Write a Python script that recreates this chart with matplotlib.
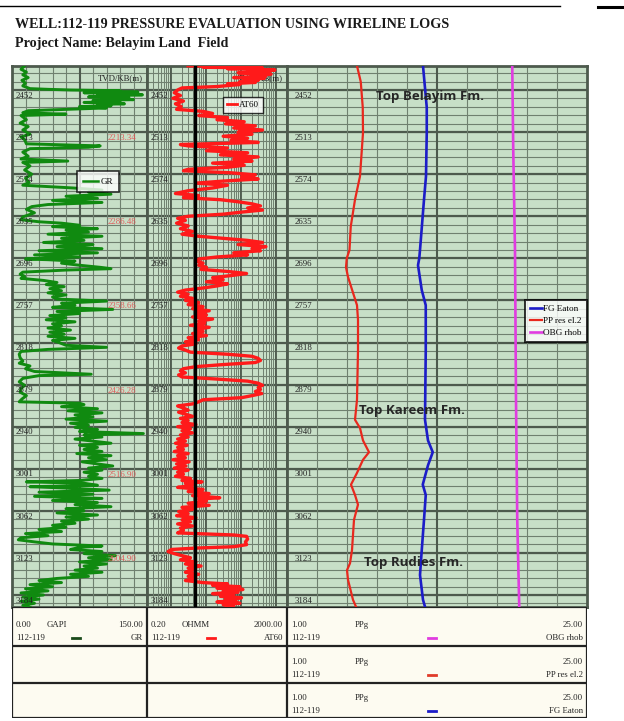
import numpy as np
import matplotlib
matplotlib.use("Agg")
import matplotlib.pyplot as plt
from matplotlib.lines import Line2D
from matplotlib.transforms import blended_transform_factory

# ---------------------------------------------------------------- data
major_depths = [2452, 2513, 2574, 2635, 2696, 2757, 2818, 2879, 2940,
                3001, 3062, 3123, 3184]
tvd_depths = [2513, 2635, 2757, 2879, 3001, 3123]
tvd_labels = ["2213.34", "2286.48", "2358.66", "2426.28", "2516.90", "2604.90"]

gr_depth = [2417, 2422, 2426, 2430, 2434, 2438, 2442, 2446, 2450, 2451, 2452, 2453,
            2454, 2455, 2456, 2457, 2458, 2459, 2460, 2461, 2462, 2463, 2464, 2466,
            2467, 2469, 2470, 2472, 2473, 2475, 2476, 2478, 2480, 2482, 2485, 2487,
            2489, 2495, 2500, 2505, 2510, 2516, 2520, 2524, 2530, 2533, 2535, 2537,
            2542, 2548, 2552, 2555, 2557, 2562, 2568, 2574, 2580, 2586, 2590, 2594,
            2597, 2600, 2603, 2606, 2609, 2612, 2615, 2618, 2621, 2625, 2630, 2636,
            2640, 2643, 2645, 2648, 2650, 2653, 2655, 2658, 2661, 2664, 2667, 2670,
            2673, 2676, 2679, 2682, 2685, 2688, 2691, 2694, 2697, 2698, 2700, 2703,
            2706, 2709, 2711, 2713, 2716, 2719, 2722, 2725, 2728, 2731, 2734, 2737,
            2740, 2743, 2746, 2749, 2752, 2755, 2758, 2761, 2764, 2767, 2770, 2773,
            2776, 2779, 2782, 2785, 2788, 2791, 2794, 2797, 2800, 2803, 2806, 2809,
            2812, 2815, 2818, 2822, 2825, 2828, 2831, 2835, 2840, 2845, 2848, 2852,
            2856, 2860, 2864, 2866, 2870, 2875, 2880, 2885, 2890, 2895, 2900, 2904,
            2906, 2908, 2911, 2914, 2917, 2920, 2923, 2926, 2929, 2932, 2935, 2938,
            2941, 2944, 2947, 2950, 2952, 2955, 2958, 2961, 2964, 2967, 2970, 2973,
            2976, 2979, 2982, 2985, 2988, 2991, 2994, 2997, 3000, 3003, 3006, 3009,
            3012, 3015, 3018, 3020, 3022, 3025, 3027, 3029, 3032, 3035, 3038, 3041,
            3044, 3047, 3050, 3053, 3056, 3059, 3062, 3065, 3068, 3071, 3074, 3077,
            3080, 3083, 3086, 3089, 3092, 3095, 3098, 3101, 3104, 3107, 3110, 3113,
            3115, 3118, 3121, 3124, 3127, 3130, 3133, 3136, 3139, 3142, 3145, 3148,
            3151, 3154, 3157, 3160, 3163, 3166, 3169, 3172, 3175, 3178, 3181, 3184,
            3187, 3190, 3193, 3196, 3199, 3202]
gr_api = [14, 10, 16, 12, 18, 11, 15, 12, 20, 40, 65, 120,
          95, 140, 80, 130, 95, 145, 110, 125, 85, 130, 100, 135,
          90, 120, 80, 125, 95, 110, 75, 105, 60, 18, 12, 60,
          10, 16, 9, 18, 12, 20, 10, 14, 16, 98, 85, 20,
          12, 18, 10, 62, 12, 20, 14, 22, 15, 19, 12, 68,
          100, 85, 110, 60, 95, 45, 100, 40, 22, 16, 25, 12,
          10, 30, 55, 75, 45, 95, 60, 85, 40, 100, 55, 80,
          35, 90, 50, 100, 30, 95, 25, 75, 15, 40, 70, 55,
          75, 98, 110, 60, 12, 9, 14, 10, 35, 50, 38, 58,
          42, 55, 40, 60, 45, 50, 105, 55, 70, 45, 112, 50,
          75, 42, 60, 38, 70, 45, 55, 40, 65, 42, 58, 40,
          70, 45, 52, 60, 105, 40, 10, 8, 9, 12, 8, 20,
          15, 25, 88, 30, 12, 8, 14, 10, 9, 16, 11, 8,
          75, 80, 55, 95, 62, 100, 70, 90, 60, 105, 65, 85,
          70, 95, 75, 146, 80, 100, 70, 90, 110, 75, 95, 80,
          100, 72, 110, 85, 105, 78, 95, 112, 85, 100, 80, 95,
          85, 100, 75, 16, 80, 95, 20, 60, 108, 30, 90, 25,
          100, 45, 95, 70, 110, 60, 80, 50, 95, 60, 85, 55,
          70, 45, 60, 30, 55, 15, 40, 10, 7, 25, 45, 100,
          75, 65, 100, 80, 115, 85, 110, 75, 105, 80, 95, 70,
          100, 65, 85, 50, 30, 55, 20, 45, 15, 40, 10, 35,
          12, 30, 10, 25, 12, 20]

at60_depth = [2417, 2418, 2419, 2420, 2421, 2423, 2424, 2426, 2427, 2429, 2430, 2432,
              2434, 2435, 2437, 2438, 2440, 2441, 2443, 2444, 2447, 2449,
              2452, 2456, 2460, 2464, 2468, 2472, 2476, 2480, 2483, 2486, 2489, 2492,
              2495, 2498, 2501, 2504, 2507, 2510, 2513, 2516, 2519, 2522, 2525, 2528,
              2531, 2533, 2536, 2540, 2543, 2546, 2549, 2552, 2555, 2558, 2561, 2564,
              2567, 2569, 2572, 2575, 2578, 2581, 2584, 2587, 2590, 2594, 2598, 2602,
              2605, 2608, 2611, 2614, 2617, 2620, 2623, 2626, 2629, 2632, 2635, 2638,
              2641, 2645, 2649, 2653, 2657, 2661, 2664, 2667, 2670, 2673, 2676, 2679,
              2682, 2685, 2688, 2691, 2694, 2697, 2700, 2703, 2706, 2709, 2712, 2715,
              2718, 2721, 2724, 2727, 2730, 2733, 2736, 2739, 2742, 2745, 2748, 2751,
              2754, 2757, 2760, 2763, 2766, 2769, 2772, 2775, 2778, 2781, 2784, 2787,
              2790, 2793, 2796, 2799, 2802, 2805, 2808, 2811, 2814, 2817, 2820, 2823,
              2826, 2829, 2832, 2835, 2838, 2841, 2844, 2847, 2850, 2853, 2856, 2859,
              2862, 2865, 2868, 2871, 2874, 2877, 2880, 2883, 2886, 2889, 2892, 2895,
              2898, 2901, 2904, 2907, 2910, 2913, 2916, 2919, 2922, 2925, 2928, 2931,
              2934, 2937, 2940, 2943, 2946, 2949, 2952, 2955, 2958, 2961, 2964, 2967,
              2970, 2973, 2976, 2979, 2982, 2985, 2988, 2991, 2994, 2997, 3000, 3003,
              3006, 3009, 3012, 3015, 3018, 3020, 3022, 3025, 3028, 3031, 3034, 3037,
              3040, 3043, 3045, 3048, 3051, 3054, 3057, 3060, 3063, 3066, 3069, 3072,
              3075, 3078, 3081, 3084, 3087, 3090, 3094, 3097, 3099, 3103, 3107, 3111,
              3114, 3116, 3118, 3121, 3124, 3127, 3130, 3133, 3136, 3139, 3142, 3145,
              3148, 3151, 3154, 3157, 3160, 3163, 3166, 3168, 3170, 3172, 3174, 3176,
              3178, 3180, 3182, 3184, 3186, 3188, 3190, 3192, 3194, 3196, 3198, 3200,
              3202]
at60_ohmm = [3, 60, 8, 400, 40, 900, 150, 600, 80, 700, 200, 500,
             60, 450, 120, 300, 90, 250, 40, 90, 20, 2,
             1.5, 1.2, 1.8, 1.1, 2.2, 1.3, 1.9, 1.4, 8, 15, 6, 40,
             20, 120, 35, 250, 60, 400, 80, 200, 30, 150, 50, 300,
             1.8, 3, 40, 10, 150, 25, 300, 60, 200, 15, 120, 40,
             3, 2.2, 50, 250, 100, 300, 30, 5, 40, 15, 3, 1.3,
             6, 2.2, 25, 80, 200, 350, 150, 400, 100, 30, 3, 1.5,
             2.5, 1.4, 3, 1.8, 4, 2, 6, 30, 150, 400, 80, 500,
             200, 350, 60, 150, 20, 6, 5, 8, 6, 10, 7, 40,
             140, 50, 15, 30, 10, 40, 20, 8, 2.5, 1.5, 3, 1.8,
             4, 2.5, 6, 3, 8, 4, 12, 5, 10, 4, 15, 6,
             9, 3.5, 12, 5, 8, 4, 10, 3, 6, 2.5, 5, 2.0,
             1.6, 2.5, 3.5, 40, 200, 300, 350, 250, 30, 5, 2.2, 1.8,
             2.5, 1.6, 2.0, 20, 150, 300, 400, 300, 350, 250, 380, 200,
             100, 8, 6, 4, 1.5, 2.2, 3, 1.6, 2.5, 4, 1.8, 3,
             2, 5, 1.5, 3.5, 2, 4, 1.8, 3, 1.5, 2.5, 1.3, 2.8,
             1.5, 2.2, 1.2, 3, 1.5, 2.5, 1.1, 3.2, 1.4, 2.6, 1.2, 3,
             1.5, 2.2, 1.3, 3.5, 2, 7.5, 2.5, 4, 1.5, 8, 3, 12,
             4, 24, 6, 10, 3, 12, 2, 4, 1.6, 3, 1.4, 5,
             2, 3.5, 1.5, 4, 1.8, 2.2, 1.5, 60, 140, 150, 130, 140,
             60, 5, 1.0, 0.8, 1.2, 2, 3.5, 1.8, 5, 2.5, 7, 3,
             4, 2.5, 6, 3, 5, 2.5, 8, 40, 15, 90, 20, 110,
             30, 80, 15, 60, 25, 100, 35, 70, 20, 90, 30, 60,
             40]
at60_cutoff = 4.8

pp_depth = [2417, 2440, 2477, 2514, 2577, 2611, 2650, 2684, 2696, 2709, 2723,
            2764, 2785, 2829, 2901, 2930, 2942, 2960, 2977, 2988, 3007, 3024,
            3039, 3053, 3075, 3119, 3138, 3148, 3162, 3191, 3201]
pp_ppg = [6.6, 6.9, 7.06, 7.08, 6.84, 6.44, 6.1, 6.0, 5.78, 5.72, 5.88,
          6.6, 6.68, 6.68, 6.6, 6.44, 6.84, 7.08, 7.56, 7.08, 6.6, 6.12,
          6.44, 6.68, 6.36, 6.2, 6.04, 5.8, 5.88, 6.28, 6.52]

fg_depth = [2417, 2477, 2514, 2577, 2611, 2684, 2696, 2706, 2742, 2764, 2829,
            2930, 2960, 2977, 2996, 3024, 3039, 3075, 3119, 3155, 3191, 3201]
fg_ppg = [11.88, 12.18, 12.18, 12.12, 11.96, 11.64, 11.58, 11.48, 11.78, 12.1, 12.1,
          12.04, 12.28, 12.66, 12.28, 11.86, 12.1, 11.96, 11.78, 11.64, 11.88, 12.04]

obg_depth = [2417, 2539, 2684, 2901, 3075, 3201]
obg_ppg = [19.02, 19.1, 19.24, 19.32, 19.42, 19.58]

formations = [("Top Belayim Fm.", 430, 2462),
              ("Top Kareem Fm.", 412, 2917),
              ("Top Rudies Fm.", 414, 3137)]

# ---------------------------------------------------------------- styling
W, H = 624, 721
DEPTH_TOP, DEPTH_BOT = 2417.2, 3201.4
BG = "#c7dfc7"
GRID = "#6f806f"
FRAME = "#4d5a4d"
SERIF = ["Liberation Serif", "DejaVu Serif"]
GREEN, RED, BLUE, MAGENTA = "#108a10", "#ff1a1a", "#1c1cc8", "#e03ce0"

fig = plt.figure(figsize=(W / 100, H / 100), dpi=100)
fig.patch.set_facecolor("white")


def frac(x0, y0, x1, y1):
    return [x0 / W, 1 - y1 / H, (x1 - x0) / W, (y1 - y0) / H]


def depth_grid(ax):
    ax.set_facecolor(BG)
    ax.set_ylim(DEPTH_BOT, DEPTH_TOP)
    step = 61 / 5
    d = major_depths[0] - 2 * step
    while d < DEPTH_BOT:
        ax.axhline(d, color=GRID, lw=0.8, zorder=1)
        d += step
    for d in major_depths:
        ax.axhline(d, color=FRAME, lw=1.6, zorder=1)
    ax.set_xticks([])
    ax.set_yticks([])
    for s in ax.spines.values():
        s.set_color(FRAME)
        s.set_linewidth(2.0)
    tr = blended_transform_factory(ax.transAxes, ax.transData)
    for d in major_depths:
        ax.text(0.025, d + 2.5, str(d), transform=tr, ha="left", va="top",
                fontsize=6.3, family=SERIF, color="#222222", zorder=6)


# Track 1 : gamma ray
ax1 = fig.add_axes(frac(12, 66, 147, 607))
depth_grid(ax1)
ax1.set_xlim(0, 150)
for v in np.arange(15, 150, 15):
    ax1.axvline(v, color=FRAME if v == 75 else GRID,
                lw=1.5 if v == 75 else 0.8, zorder=1)
ax1.plot(gr_api, gr_depth, color=GREEN, lw=2.1, zorder=3)
tr1 = blended_transform_factory(ax1.transAxes, ax1.transData)
for d, lab in zip(tvd_depths, tvd_labels):
    ax1.text(0.92, d + 3, lab, transform=tr1, ha="right", va="top",
             fontsize=6.3, family=SERIF, color="#e05a5a", zorder=6)
ax1.text(0.97, 0.985, "TVD/KB(m)", transform=ax1.transAxes, ha="right",
         va="top", fontsize=6.3, family=SERIF, color="#222222", zorder=6)
leg1 = ax1.legend([Line2D([], [], color=GREEN, lw=1.8)], ["GR"],
                  loc="upper left", bbox_to_anchor=(0.48, 0.805),
                  prop={"family": SERIF, "size": 6.5}, frameon=True,
                  fancybox=False, handlelength=1.6, handletextpad=0.3,
                  borderpad=0.7, borderaxespad=0)
leg1.get_frame().set_edgecolor("black")
leg1.get_frame().set_linewidth(1.2)
leg1.set_zorder(8)

# Track 2 : resistivity (log)
ax2 = fig.add_axes(frac(147, 66, 287, 607))
depth_grid(ax2)
ax2.set_xscale("log")
ax2.set_xlim(0.2, 2000)
ax2.set_xticks([])
ax2.minorticks_off()
for dec in [0.1, 1, 10, 100, 1000]:
    for m in range(1, 10):
        v = dec * m
        if 0.2 < v < 2000:
            major = m == 1
            ax2.axvline(v, color=FRAME if major else GRID,
                        lw=1.3 if major else 0.7, zorder=1)
ax2.axvline(at60_cutoff, color="black", lw=2.4, zorder=4)
ax2.plot(at60_ohmm, at60_depth, color=RED, lw=2.4, zorder=3)
ax2.text(0.97, 0.985, "TVD/KB(m)", transform=ax2.transAxes, ha="right",
         va="top", fontsize=6.3, family=SERIF, color="#222222", zorder=2)
leg2 = ax2.legend([Line2D([], [], color=RED, lw=2.0)], ["AT60"],
                  loc="upper left", bbox_to_anchor=(0.54, 0.943),
                  prop={"family": SERIF, "size": 6.5}, frameon=True,
                  fancybox=False, handlelength=1.2, handletextpad=0.2,
                  borderpad=0.45, borderaxespad=0)
leg2.get_frame().set_edgecolor("black")
leg2.get_frame().set_linewidth(1.0)
leg2.set_zorder(8)

# Track 3 : pressure gradients
ax3 = fig.add_axes(frac(287, 66, 587, 607))
depth_grid(ax3)
ax3.set_xlim(1, 25)
for v in np.arange(1, 25, 2.4)[1:]:
    ax3.axvline(v, color=FRAME if abs(v - 13) < 0.1 else GRID,
                lw=1.5 if abs(v - 13) < 0.1 else 0.8, zorder=1)
l_fg, = ax3.plot(fg_ppg, fg_depth, color=BLUE, lw=1.9, zorder=3)
l_pp, = ax3.plot(pp_ppg, pp_depth, color="#e8281e", lw=1.6, zorder=3)
l_obg, = ax3.plot(obg_ppg, obg_depth, color=MAGENTA, lw=1.9, zorder=3)
for name, x, d in formations:
    ax3.text((x - 287) / 300 * 24 + 1, d, name,
             ha="center", va="center", fontsize=9.5, fontweight="bold",
             family=["Open Sans", "DejaVu Sans"], color="#262626", zorder=5)
leg3 = ax3.legend([l_fg, l_pp, l_obg], ["FG Eaton", "PP res el.2", "OBG rhob"],
                  loc="upper right", bbox_to_anchor=(1.0, 0.568),
                  prop={"family": SERIF, "size": 6.6}, frameon=True,
                  fancybox=False, handlelength=1.3, handletextpad=0.2,
                  borderpad=0.55, labelspacing=0.4, borderaxespad=0)
leg3.get_frame().set_edgecolor("black")
leg3.get_frame().set_linewidth(1.4)
leg3.set_zorder(8)

# ---------------------------------------------------------------- header table
axh = fig.add_axes(frac(12, 607, 587, 718))
axh.set_xlim(12, 587)
axh.set_ylim(718, 607)
axh.axis("off")
axh.add_patch(plt.Rectangle((12, 607), 575, 111, facecolor="#fdfbf1",
                            edgecolor="none", zorder=0))
for y in [607, 646, 683, 718]:
    axh.plot([12, 587], [y, y], color="#222222", lw=1.6, zorder=2)
for x in [12, 147, 287, 587]:
    axh.plot([x, x], [607, 718], color="#222222", lw=1.6, zorder=2)

hdr = dict(fontsize=6.3, family=SERIF, color="#222222", va="center")
curves = [
    (12, 147, 625, "0.00", "GAPI", "150.00", "GR", "#1a4a1a"),
    (147, 287, 625, "0.20", "OHMM", "2000.00", "AT60", RED),
    (287, 587, 625, "1.00", "PPg", "25.00", "OBG rhob", MAGENTA),
    (287, 587, 662, "1.00", "PPg", "25.00", "PP res el.2", "#e03a2a"),
    (287, 587, 698, "1.00", "PPg", "25.00", "FG Eaton", BLUE),
]
for x0, x1, y, lo, unit, hi, name, col in curves:
    wide = (x1 - x0) > 200
    axh.text(x0 + 4, y, lo, ha="left", **hdr)
    axh.text(x0 + (68 if wide else 35), y, unit, ha="left", **hdr)
    axh.text(x1 - 4, y, hi, ha="right", **hdr)
    axh.text(x0 + 4, y + 13, "112-119", ha="left", **hdr)
    axh.text(x1 - 4, y + 13, name, ha="right", **hdr)
    mx = x0 + (145 if wide else 64)
    axh.plot([mx - 4, mx + 4], [y + 13, y + 13], color=col, lw=2.0)

# ---------------------------------------------------------------- titles
fig.text(15 / W, 1 - 25 / H, "WELL:112-119 PRESSURE EVALUATION USING WIRELINE LOGS",
         ha="left", va="center", fontsize=10.2, fontweight="bold", family=SERIF,
         color="#1a1a1a")
fig.text(15 / W, 1 - 44 / H, "Project Name: Belayim Land  Field",
         ha="left", va="center", fontsize=10.2, fontweight="bold", family=SERIF,
         color="#1a1a1a")
fig.add_artist(Line2D([0, 560 / W], [1 - 6 / H, 1 - 6 / H], color="black", lw=1.0))
fig.add_artist(Line2D([598 / W, 1], [1 - 7 / H, 1 - 7 / H], color="black", lw=2.2))

fig.savefig("out.png", dpi=100)
